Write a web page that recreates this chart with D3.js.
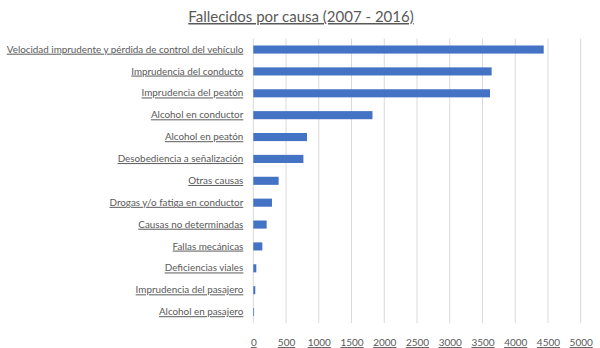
<!DOCTYPE html>
<html>
<head>
<meta charset="utf-8">
<script src="https://cdn.jsdelivr.net/npm/d3@7"></script>
<style>
  html, body { margin: 0; padding: 0; background: #ffffff; }
  svg text { font-family: Lato, "Open Sans", sans-serif; fill: #595959; text-decoration: underline; }
</style>
</head>
<body>
<svg id="chart" width="600" height="348"></svg>
<script>
// Fatalities by cause, 2007-2016
const categories = [
  "Velocidad imprudente y pérdida de control del vehículo",
  "Imprudencia del conducto",
  "Imprudencia del peatón",
  "Alcohol en conductor",
  "Alcohol en peatón",
  "Desobediencia a señalización",
  "Otras causas",
  "Drogas y/o fatiga en conductor",
  "Causas no determinadas",
  "Fallas mecánicas",
  "Deficiencias viales",
  "Imprudencia del pasajero",
  "Alcohol en pasajero"
];
const values = [4435, 3640, 3615, 1820, 820, 765, 387, 285, 204, 138, 46, 30, 12];
const xTicks = [0, 500, 1000, 1500, 2000, 2500, 3000, 3500, 4000, 4500, 5000];
const title = "Fallecidos por causa (2007 - 2016)";

const svg = d3.select("#chart");
const margin = { top: 38.6, right: 19.3, bottom: 25, left: 253.3 };
const width = 600, height = 348;

const x = d3.scaleLinear().domain([0, 5000]).range([margin.left, width - margin.right]);
const y = d3.scaleBand().domain(categories).range([margin.top, 323]).paddingInner(0.63).paddingOuter(0.315);

// Title
svg.append("text")
  .attr("x", 301).attr("y", 22)
  .attr("text-anchor", "middle")
  .style("font-size", "15px")
  .text(title);

// Vertical gridlines
svg.append("g").selectAll("line")
  .data(xTicks)
  .join("line")
  .attr("x1", d => x(d)).attr("x2", d => x(d))
  .attr("y1", margin.top).attr("y2", 323)
  .attr("stroke", "#d9d9d9").attr("stroke-width", 1);

// Bars
svg.append("g").selectAll("rect")
  .data(values)
  .join("rect")
  .attr("x", x(0))
  .attr("y", (d, i) => y(categories[i]))
  .attr("width", d => x(d) - x(0))
  .attr("height", y.bandwidth())
  .attr("fill", "#4472c4");

// Category labels
const yAxis = d3.axisLeft(y).tickSize(0).tickPadding(10);
const gy = svg.append("g").attr("transform", `translate(${margin.left},0)`).call(yAxis);
gy.select(".domain").remove();
gy.selectAll("text").style("font-size", "9.85px").attr("fill", "#595959");

// Value axis labels
const xAxis = d3.axisBottom(x).tickValues(xTicks).tickSize(0).tickPadding(8).tickFormat(d3.format("d"));
const gx = svg.append("g").attr("transform", "translate(0,331)").call(xAxis);
gx.select(".domain").remove();
gx.selectAll("text").style("font-size", "10px").attr("fill", "#595959");
</script>
</body>
</html>
